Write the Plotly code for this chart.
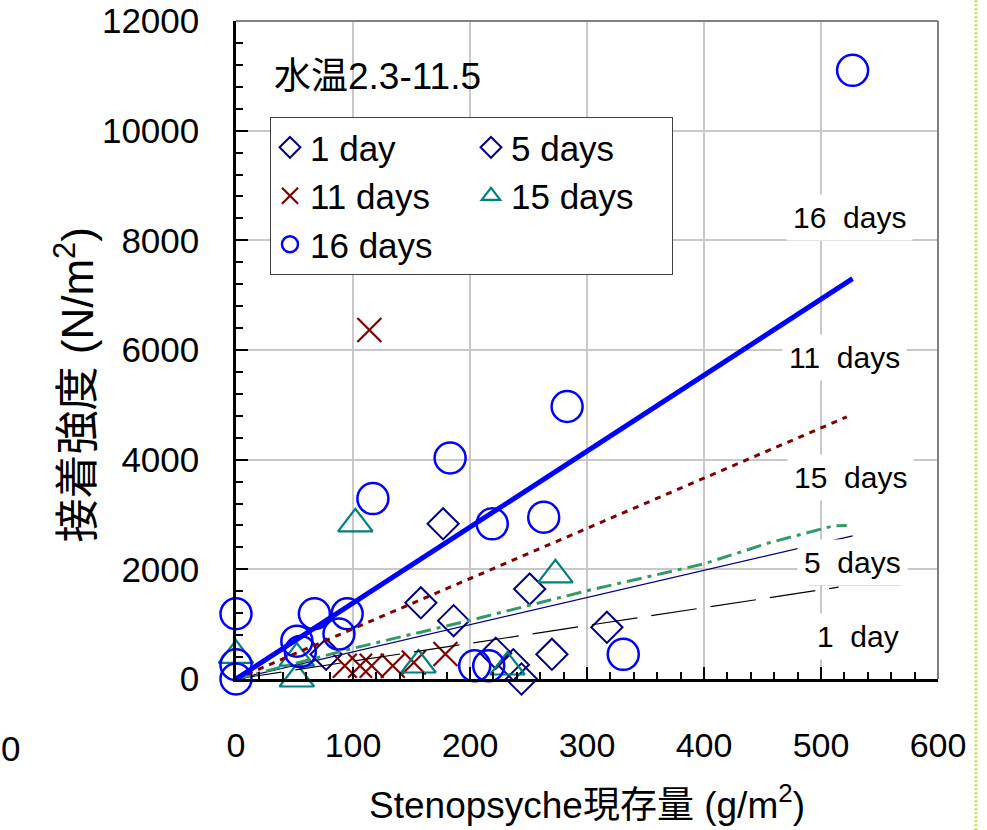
import plotly.graph_objects as go

# ---------------- data ----------------
d1_x = [77, 158, 244, 270, 317]
d1_y = [450, 1390, 0, 450, 943]
d5_x = [177, 186, 222, 237, 251]
d5_y = [2830, 1064, 470, 260, 1641]
d11_x = [93, 106, 116, 134, 152, 179, 114]
d11_y = [240, 240, 240, 240, 300, 456, 6366]
d15_x = [0, 52, 52, 102, 156, 232, 273]
d15_y = [430, 380, 0, 2830, 255, 219, 1900]
d16_x = [0, 0, 0, 52, 55, 67, 95, 88, 117, 183, 219, 263, 283, 527, 331, 204, 216]
d16_y = [1190, 260, 0, 690, 500, 1190, 1190, 820, 3290, 4030, 2830, 2950, 4970, 11100, 450, 240, 240]

# regression lines
fit16_x = [0, 527]
fit16_y = [0, 7300]
fit11_x = [0, 522]
fit11_y = [0, 4780]
fit15_x = [0, 100, 200, 300, 400, 455, 510, 522]
fit15_y = [0, 560, 1070, 1610, 2100, 2480, 2790, 2800]
fit5_x = [0, 527]
fit5_y = [0, 2610]
fit1_x = [0, 515]
fit1_y = [0, 1675]

x_ticks = [0, 100, 200, 300, 400, 500, 600]
y_ticks = [0, 2000, 4000, 6000, 8000, 10000, 12000]

line_labels = ["16\u00a0 days", "11\u00a0 days", "15\u00a0 days", "5\u00a0 days", "1\u00a0 day"]
line_label_x = [524, 520, 525, 527, 532]
line_label_y = [8410, 5870, 3670, 2120, 770]

FONT = "Liberation Sans, Arial, Noto Sans CJK JP, sans-serif"

NAVY = "#000080"
DARKRED = "#800000"
TEAL = "#008080"
BLUE = "#0000FF"
GREEN = "#339966"

fig = go.Figure()

fig.add_trace(go.Scatter(x=d1_x, y=d1_y, mode="markers", name="1 day", legendgroup="a",
                         marker=dict(symbol="diamond-open", size=24, color=NAVY, line=dict(width=2, color=NAVY)),
                         cliponaxis=False))
fig.add_trace(go.Scatter(x=d5_x, y=d5_y, mode="markers", name="5 days", legendgroup="b",
                         marker=dict(symbol="diamond-open", size=24, color=NAVY, line=dict(width=2, color=NAVY)),
                         cliponaxis=False))
fig.add_trace(go.Scatter(x=d11_x, y=d11_y, mode="markers", name="11 days", legendgroup="a",
                         marker=dict(symbol="x-thin-open", size=24, color=DARKRED, line=dict(width=2.2, color=DARKRED)),
                         cliponaxis=False))
fig.add_trace(go.Scatter(x=d15_x, y=d15_y, mode="markers", name="15 days", legendgroup="b",
                         marker=dict(symbol="triangle-up-open", size=30, color=TEAL, line=dict(width=2.2, color=TEAL)),
                         cliponaxis=False))
fig.add_trace(go.Scatter(x=d16_x, y=d16_y, mode="markers", name="16 days", legendgroup="a",
                         marker=dict(symbol="circle-open", size=31, color=BLUE, line=dict(width=2.5, color=BLUE)),
                         cliponaxis=False))

# regression lines
fig.add_trace(go.Scatter(x=fit1_x, y=fit1_y, mode="lines", showlegend=False,
                         line=dict(color="black", width=1.2, dash="46px,14px")))
fig.add_trace(go.Scatter(x=fit5_x, y=fit5_y, mode="lines", showlegend=False,
                         line=dict(color=NAVY, width=1.2)))
fig.add_trace(go.Scatter(x=fit15_x, y=fit15_y, mode="lines", showlegend=False,
                         line=dict(color=GREEN, width=3, dash="15px,6px,4px,6px")))
fig.add_trace(go.Scatter(x=fit11_x, y=fit11_y, mode="lines", showlegend=False,
                         line=dict(color=DARKRED, width=3, dash="6px,6px")))
fig.add_trace(go.Scatter(x=fit16_x, y=fit16_y, mode="lines", showlegend=False,
                         line=dict(color=BLUE, width=5)))

annotations = []
for t, ax_, ay_ in zip(line_labels, line_label_x, line_label_y):
    annotations.append(dict(x=ax_, y=ay_, xref="x", yref="y", text=t, showarrow=False,
                            font=dict(size=30, color="black", family=FONT),
                            bgcolor="white", borderpad=6))
annotations.append(dict(x=0.0513, y=0.9164, xref="paper", yref="paper", xanchor="left", yanchor="middle",
                        text="水温2.3-11.5", showarrow=False,
                        font=dict(size=37, color="black", family=FONT)))
annotations.append(dict(x=-0.272, y=0.447, xref="paper", yref="paper", textangle=-90,
                        text="接着強度 (N/m<sup>2</sup>)", showarrow=False,
                        font=dict(size=44, color="black", family=FONT)))
annotations.append(dict(x=-0.337, y=-0.138, xref="paper", yref="paper",
                        text="0", showarrow=False,
                        font=dict(size=35, color="black", family=FONT)))

shapes = [
    # top and right frame (grey)
    dict(type="line", xref="paper", yref="paper", x0=0, x1=1, y0=1, y1=1,
         line=dict(color="#808080", width=2), layer="above"),
    dict(type="line", xref="paper", yref="paper", x0=1, x1=1, y0=0, y1=1,
         line=dict(color="#808080", width=2), layer="above"),
    # line sample under "5 days"
    dict(type="line", xref="x", yref="y", x0=489, x1=568, y0=1730, y1=1730,
         line=dict(color="black", width=2), layer="above"),
    # dotted page border on the right
    dict(type="line", xref="paper", yref="paper", x0=1.054, x1=1.054, y0=-0.23, y1=1.04,
         line=dict(color="#c5dd55", width=3, dash="2px,2px")),
]

fig.update_layout(
    width=987, height=830,
    margin=dict(l=236, r=49, t=21, b=151, autoexpand=False),
    paper_bgcolor="white", plot_bgcolor="white",
    font=dict(family=FONT, color="black"),
    showlegend=True,
    legend=dict(x=0.0484, y=0.854, xanchor="left", yanchor="top",
                orientation="h", traceorder="grouped",
                bgcolor="white", bordercolor="#404040", borderwidth=1,
                font=dict(size=35, color="black", family=FONT),
                entrywidth=156, tracegroupgap=0),
    annotations=annotations,
    shapes=shapes,
    xaxis=dict(range=[0, 600], tickvals=x_ticks, ticktext=[str(v) for v in x_ticks],
               automargin=False,
               showgrid=True, gridcolor="#c8c8c8", gridwidth=1.5,
               showline=True, linecolor="black", linewidth=2.5,
               ticks="inside", ticklen=12, tickwidth=2, tickcolor="black",
               tickfont=dict(size=34, color="black", family=FONT),
               ticklabelstandoff=34,
               minor=dict(dtick=20, ticks="inside", ticklen=7, tickwidth=1.5, tickcolor="black", showgrid=False),
               zeroline=False,
               title=dict(text="Stenopsyche現存量 (g/m<sup>2</sup>)", standoff=30,
                          font=dict(size=37, color="black", family=FONT))),
    yaxis=dict(range=[0, 12000], tickvals=y_ticks, ticktext=[str(v) for v in y_ticks],
               automargin=False,
               showgrid=True, gridcolor="#c8c8c8", gridwidth=1.5,
               showline=True, linecolor="black", linewidth=2.5,
               ticks="inside", ticklen=12, tickwidth=2, tickcolor="black",
               tickfont=dict(size=35, color="black", family=FONT),
               ticklabelstandoff=27,
               minor=dict(dtick=400, ticks="inside", ticklen=7, tickwidth=1.5, tickcolor="black", showgrid=False),
               zeroline=False),
)

fig.write_html("out.html")
